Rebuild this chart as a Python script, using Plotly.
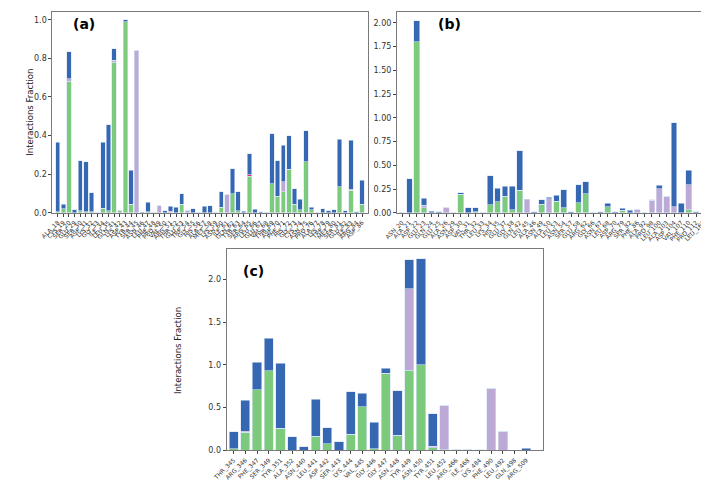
import plotly.graph_objects as go

# ---------------- Panel (a) ----------------
a_labels = ["ALA_18", "CYS_19", "SER_20", "GLU_29", "SER_30", "ASP_31", "LYS_32", "GLY_33",
            "ILE_34", "LEU_35", "GLN_41", "LYS_42", "ASP_43", "TYR_44", "SER_45", "ASN_46",
            "LEU_47", "PHE_48", "PRO_49", "VAL_50", "ARG_51", "THR_52", "GLU_53", "TRP_54",
            "GLY_55", "HIS_56", "ALA_57", "MET_58", "LYS_59", "ASN_60", "ILE_61", "GLN_62",
            "TYR_63", "SER_64", "ARG_65", "LEU_66", "GLU_67", "VAL_68", "THR_69", "ASP_70",
            "PHE_71", "HIS_72", "GLY_73", "CYS_74", "ASN_75", "PRO_76", "ALA_77", "LYS_78",
            "TRP_79", "MET_80", "SER_81", "GLU_82", "ILE_83", "ARG_84", "ASP_86"]
a_hbond = [0.005, 0.02, 0.68, 0, 0.01, 0.005, 0.005, 0, 0.025, 0.01, 0.78, 0.01, 0.99, 0.045,
           0, 0, 0.005, 0, 0, 0, 0.003, 0, 0.045, 0, 0, 0, 0, 0, 0, 0.03, 0, 0.10, 0.01, 0,
           0.19, 0, 0, 0, 0.15, 0.085, 0.11, 0.225, 0.045, 0.015, 0.265, 0.015, 0, 0, 0, 0,
           0.135, 0, 0.118, 0, 0.045]
a_hydro = [0, 0, 0.015, 0, 0, 0, 0, 0, 0, 0, 0.01, 0, 0, 0, 0.84, 0, 0, 0, 0.038, 0, 0, 0,
           0, 0.012, 0, 0, 0, 0, 0, 0, 0.093, 0, 0, 0, 0, 0, 0, 0, 0, 0, 0.05, 0, 0, 0, 0, 0,
           0, 0, 0, 0, 0, 0, 0, 0, 0]
a_ionic = [0, 0, 0, 0, 0, 0, 0, 0, 0, 0, 0, 0, 0, 0, 0, 0, 0, 0, 0, 0, 0.004, 0, 0, 0, 0, 0,
           0, 0, 0, 0, 0, 0, 0, 0, 0.007, 0, 0, 0, 0, 0, 0, 0, 0, 0, 0, 0, 0, 0, 0, 0, 0, 0,
           0.004, 0, 0]
a_water = [0.36, 0.025, 0.14, 0.015, 0.26, 0.26, 0.10, 0, 0.34, 0.445, 0.06, 0, 0.01, 0.175,
           0, 0.002, 0.05, 0, 0, 0.012, 0.028, 0.028, 0.055, 0, 0.02, 0, 0.033, 0.036, 0,
           0.08, 0, 0.128, 0.10, 0.007, 0.108, 0.018, 0.005, 0, 0.26, 0.185, 0.19, 0.175,
           0.08, 0.055, 0.16, 0.015, 0, 0.02, 0.01, 0.015, 0.245, 0.01, 0.253, 0.005, 0.125]

# ---------------- Panel (b) ----------------
b_labels = ["ASN_20", "ALA_21", "ASP_22", "GLU_23", "GLN_24", "GLU_25", "ALA_26", "ASN_29",
            "ASP_30", "VAL_31", "THR_32", "LEU_33", "LYS_34", "HIS_35", "GLU_37", "GLY_38",
            "GLN_42", "LEU_45", "ALA_46", "ASN_49", "ALA_50", "LEU_53", "ASN_54", "SER_57",
            "GLU_58", "ARG_62", "GLY_66", "ASN_67", "LEU_68", "ASP_70", "ARG_79", "SER_82",
            "PHE_86", "ALA_92", "PRO_98", "LEU_100", "ALA_103", "ASP_104", "VAL_107",
            "PHE_110", "PRO_112", "LEU_160"]
b_hbond = [0, 0, 1.80, 0.055, 0, 0, 0, 0, 0.195, 0, 0.01, 0, 0.085, 0.115, 0.175, 0.035,
           0.24, 0, 0, 0.09, 0, 0.12, 0.055, 0, 0.105, 0.20, 0, 0, 0.065, 0, 0.025, 0, 0, 0,
           0, 0, 0, 0, 0, 0.03, 0, 0]
b_hydro = [0, 0, 0, 0.025, 0, 0, 0.055, 0, 0, 0, 0, 0, 0, 0, 0, 0, 0, 0.14, 0, 0, 0.15, 0,
           0, 0, 0, 0, 0, 0, 0, 0, 0, 0, 0.03, 0, 0.135, 0.255, 0.175, 0.065, 0, 0.265, 0,
           0.01]
b_ionic = [0] * 42
b_water = [0.003, 0.36, 0.22, 0.075, 0.015, 0.012, 0, 0, 0.015, 0.055, 0.045, 0, 0.305,
           0.145, 0.105, 0.245, 0.415, 0.005, 0.01, 0.05, 0.015, 0.065, 0.19, 0.012, 0.19,
           0.125, 0, 0.01, 0.035, 0.01, 0.025, 0.025, 0, 0, 0.005, 0.035, 0, 0.885, 0.10,
           0.155, 0.01, 0]

# ---------------- Panel (c) ----------------
c_labels = ["THR_345", "ARG_346", "PHE_347", "SER_349", "TYR_351", "ALA_352", "ASN_440",
            "LEU_441", "ASP_442", "SER_443", "LYS_444", "VAL_445", "GLY_446", "GLY_447",
            "ASN_448", "TYR_449", "ASN_450", "TYR_451", "LEU_452", "ARG_466", "ILE_468",
            "LYS_484", "PHE_490", "LEU_492", "GLN_498", "ARG_509"]
c_hbond = [0.02, 0.21, 0.71, 0.93, 0.26, 0, 0, 0.165, 0.08, 0, 0.19, 0.51, 0.02, 0.90,
           0.175, 0.94, 1.00, 0.03, 0.005, 0, 0, 0, 0, 0, 0, 0]
c_hydro = [0, 0, 0, 0, 0, 0, 0, 0, 0, 0, 0, 0, 0, 0, 0, 0.95, 0, 0.02, 0.515, 0.005, 0.005,
           0, 0.725, 0.22, 0, 0]
c_ionic = [0, 0.015, 0, 0, 0, 0, 0, 0, 0, 0, 0, 0, 0, 0, 0, 0, 0, 0, 0, 0, 0, 0, 0, 0, 0, 0]
c_water = [0.20, 0.36, 0.32, 0.38, 0.76, 0.16, 0.04, 0.43, 0.185, 0.10, 0.495, 0.16, 0.31,
           0.06, 0.52, 0.34, 1.24, 0.38, 0, 0, 0, 0.01, 0, 0, 0, 0.025]

GREEN = "#7ccb7d"
PURPLE = "#bca9d5"
PINK = "#d8266f"
BLUE = "#3567b2"
EDGE = "rgba(214,226,243,1)"

fig = go.Figure()

panels = [
    ("x", "y", a_labels, a_hbond, a_hydro, a_ionic, a_water),
    ("x2", "y2", b_labels, b_hbond, b_hydro, b_ionic, b_water),
    ("x3", "y3", c_labels, c_hbond, c_hydro, c_ionic, c_water),
]
for xa, ya, labs, hb, hy, io, wb in panels:
    for vals, col in [(hb, GREEN), (hy, PURPLE), (io, PINK), (wb, BLUE)]:
        fig.add_trace(go.Bar(x=labs, y=vals, xaxis=xa, yaxis=ya,
                             marker=dict(color=col, line=dict(color=EDGE, width=0.6)),
                             showlegend=False))

W, H = 709, 482
def px_x(p):
    return p / W
def px_y(p):
    return 1 - p / H

axis_common = dict(showline=True, linecolor="#7a7a7a", linewidth=1, mirror=True,
                   ticks="outside", ticklen=3, tickcolor="#444", showgrid=False,
                   zeroline=False)
tickfont_x = dict(family="DejaVu Sans", size=6, color="#333")
tickfont_y = dict(family="DejaVu Sans", size=8, color="#333")
cat_ticks = dict(tickmode="linear", tick0=0, dtick=1, tickangle=-45)

fig.update_layout(
    width=W, height=H, margin=dict(l=0, r=0, t=0, b=0),
    paper_bgcolor="white", plot_bgcolor="white",
    barmode="stack", bargap=0.22,
    xaxis=dict(domain=[px_x(30), px_x(352)], anchor="y",
               range=[-0.95, len(a_labels) - 0.05], tickfont=tickfont_x,
               **cat_ticks, **axis_common),
    yaxis=dict(domain=[px_y(207), px_y(4)], anchor="x", range=[0, 1.04],
               tickvals=[0, 0.2, 0.4, 0.6, 0.8, 1.0], tickformat=".1f",
               tickfont=tickfont_y, **axis_common),
    xaxis2=dict(domain=[px_x(382), px_x(703)], anchor="y2",
                range=[-0.7, len(b_labels) + 0.05], tickfont=tickfont_x,
                **cat_ticks, **axis_common),
    yaxis2=dict(domain=[px_y(207), px_y(4)], anchor="x2", range=[0, 2.115],
                tickvals=[0, 0.25, 0.5, 0.75, 1.0, 1.25, 1.5, 1.75, 2.0], tickformat=".2f",
                tickfont=tickfont_y, **axis_common),
    xaxis3=dict(domain=[px_x(208), px_x(531)], anchor="y3",
                range=[-0.6, len(c_labels) + 0.4],
                tickfont=dict(family="DejaVu Sans", size=6, color="#333"),
                ticklabelstandoff=0,
                **cat_ticks, **axis_common),
    yaxis3=dict(domain=[px_y(447), px_y(244)], anchor="x3", range=[0, 2.35],
                tickvals=[0, 0.5, 1.0, 1.5, 2.0], tickformat=".1f",
                tickfont=tickfont_y, **axis_common),
)

annos = [
    dict(text="<b>(a)</b>", x=px_x(62), y=px_y(16)),
    dict(text="<b>(b)</b>", x=px_x(436), y=px_y(16)),
    dict(text="<b>(c)</b>", x=px_x(235), y=px_y(266)),
]
for a in annos:
    fig.add_annotation(xref="paper", yref="paper", showarrow=False,
                       font=dict(family="DejaVu Sans", size=14, color="black"),
                       xanchor="center", yanchor="middle", **a)

for xp, yp in [(7, 105), (159, 346)]:
    fig.add_annotation(text="Interactions Fraction", xref="paper", yref="paper",
                       x=px_x(xp), y=px_y(yp), showarrow=False, textangle=-90,
                       font=dict(family="DejaVu Sans", size=8.5, color="#222"),
                       xanchor="center", yanchor="middle")

fig.write_html("out.html")
